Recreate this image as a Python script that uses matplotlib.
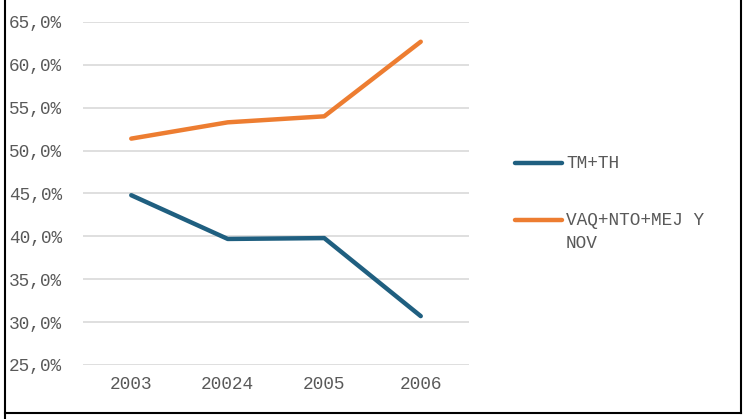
import matplotlib
matplotlib.use("Agg")
import matplotlib.pyplot as plt
from matplotlib.lines import Line2D
from matplotlib.ticker import FuncFormatter

categories = ["2003", "20024", "2005", "2006"]
tm_th = [44.8, 39.7, 39.8, 30.7]
vaq = [51.4, 53.3, 54.0, 62.7]
series_names = ["TM+TH", "VAQ+NTO+MEJ Y\nNOV"]
colors = ["#1f5f80", "#ed7d31"]

W, H = 748, 419
fig = plt.figure(figsize=(W / 100, H / 100), dpi=100)
plt.rcParams['font.family'] = ['Liberation Mono', 'DejaVu Sans Mono']
FS = 12.8

ax = fig.add_axes([83 / W, 1 - 365 / H, (469 - 83) / W, (365 - 22) / H])
x = list(range(len(categories)))
for vals, c in zip([tm_th, vaq], colors):
    ax.plot(x, vals, color=c, lw=3.2, solid_capstyle='round')

ax.set_xlim(-0.5, len(categories) - 0.5)
ax.set_ylim(25, 65)
ax.set_yticks(range(25, 70, 5))
ax.yaxis.set_major_formatter(FuncFormatter(lambda v, p: f"{v:.1f}%".replace(".", ",")))
ax.set_xticks(x)
ax.set_xticklabels(categories)
ax.grid(axis='y', color='#d9d9d9', lw=1.2)
ax.set_axisbelow(True)
for s in ax.spines.values():
    s.set_visible(False)
ax.tick_params(length=0, labelsize=FS, colors='#595959')
ax.tick_params(axis='y', pad=15)
ax.tick_params(axis='x', pad=8)

# legend
leg_y = [163, 220]
for name, c, ly in zip(series_names, colors, leg_y):
    fig.add_artist(Line2D([515 / W, 562 / W], [1 - ly / H, 1 - ly / H], color=c, lw=3.2,
                          solid_capstyle='round', transform=fig.transFigure))
    fig.text(566 / W, 1 - ly / H + 8 / H, name, ha='left', va='top', fontsize=FS,
             color='#595959', linespacing=1.45, family=['Liberation Mono', 'DejaVu Sans Mono'])

# frame
kw = dict(color='black', lw=1.5, transform=fig.transFigure)
fig.add_artist(Line2D([5 / W, 5 / W], [0, 1], **kw))
fig.add_artist(Line2D([741 / W, 741 / W], [1 - 413 / H, 1], **kw))
fig.add_artist(Line2D([5 / W, 741 / W], [1 - 413 / H, 1 - 413 / H], **kw))

fig.savefig("out.png", dpi=100)
